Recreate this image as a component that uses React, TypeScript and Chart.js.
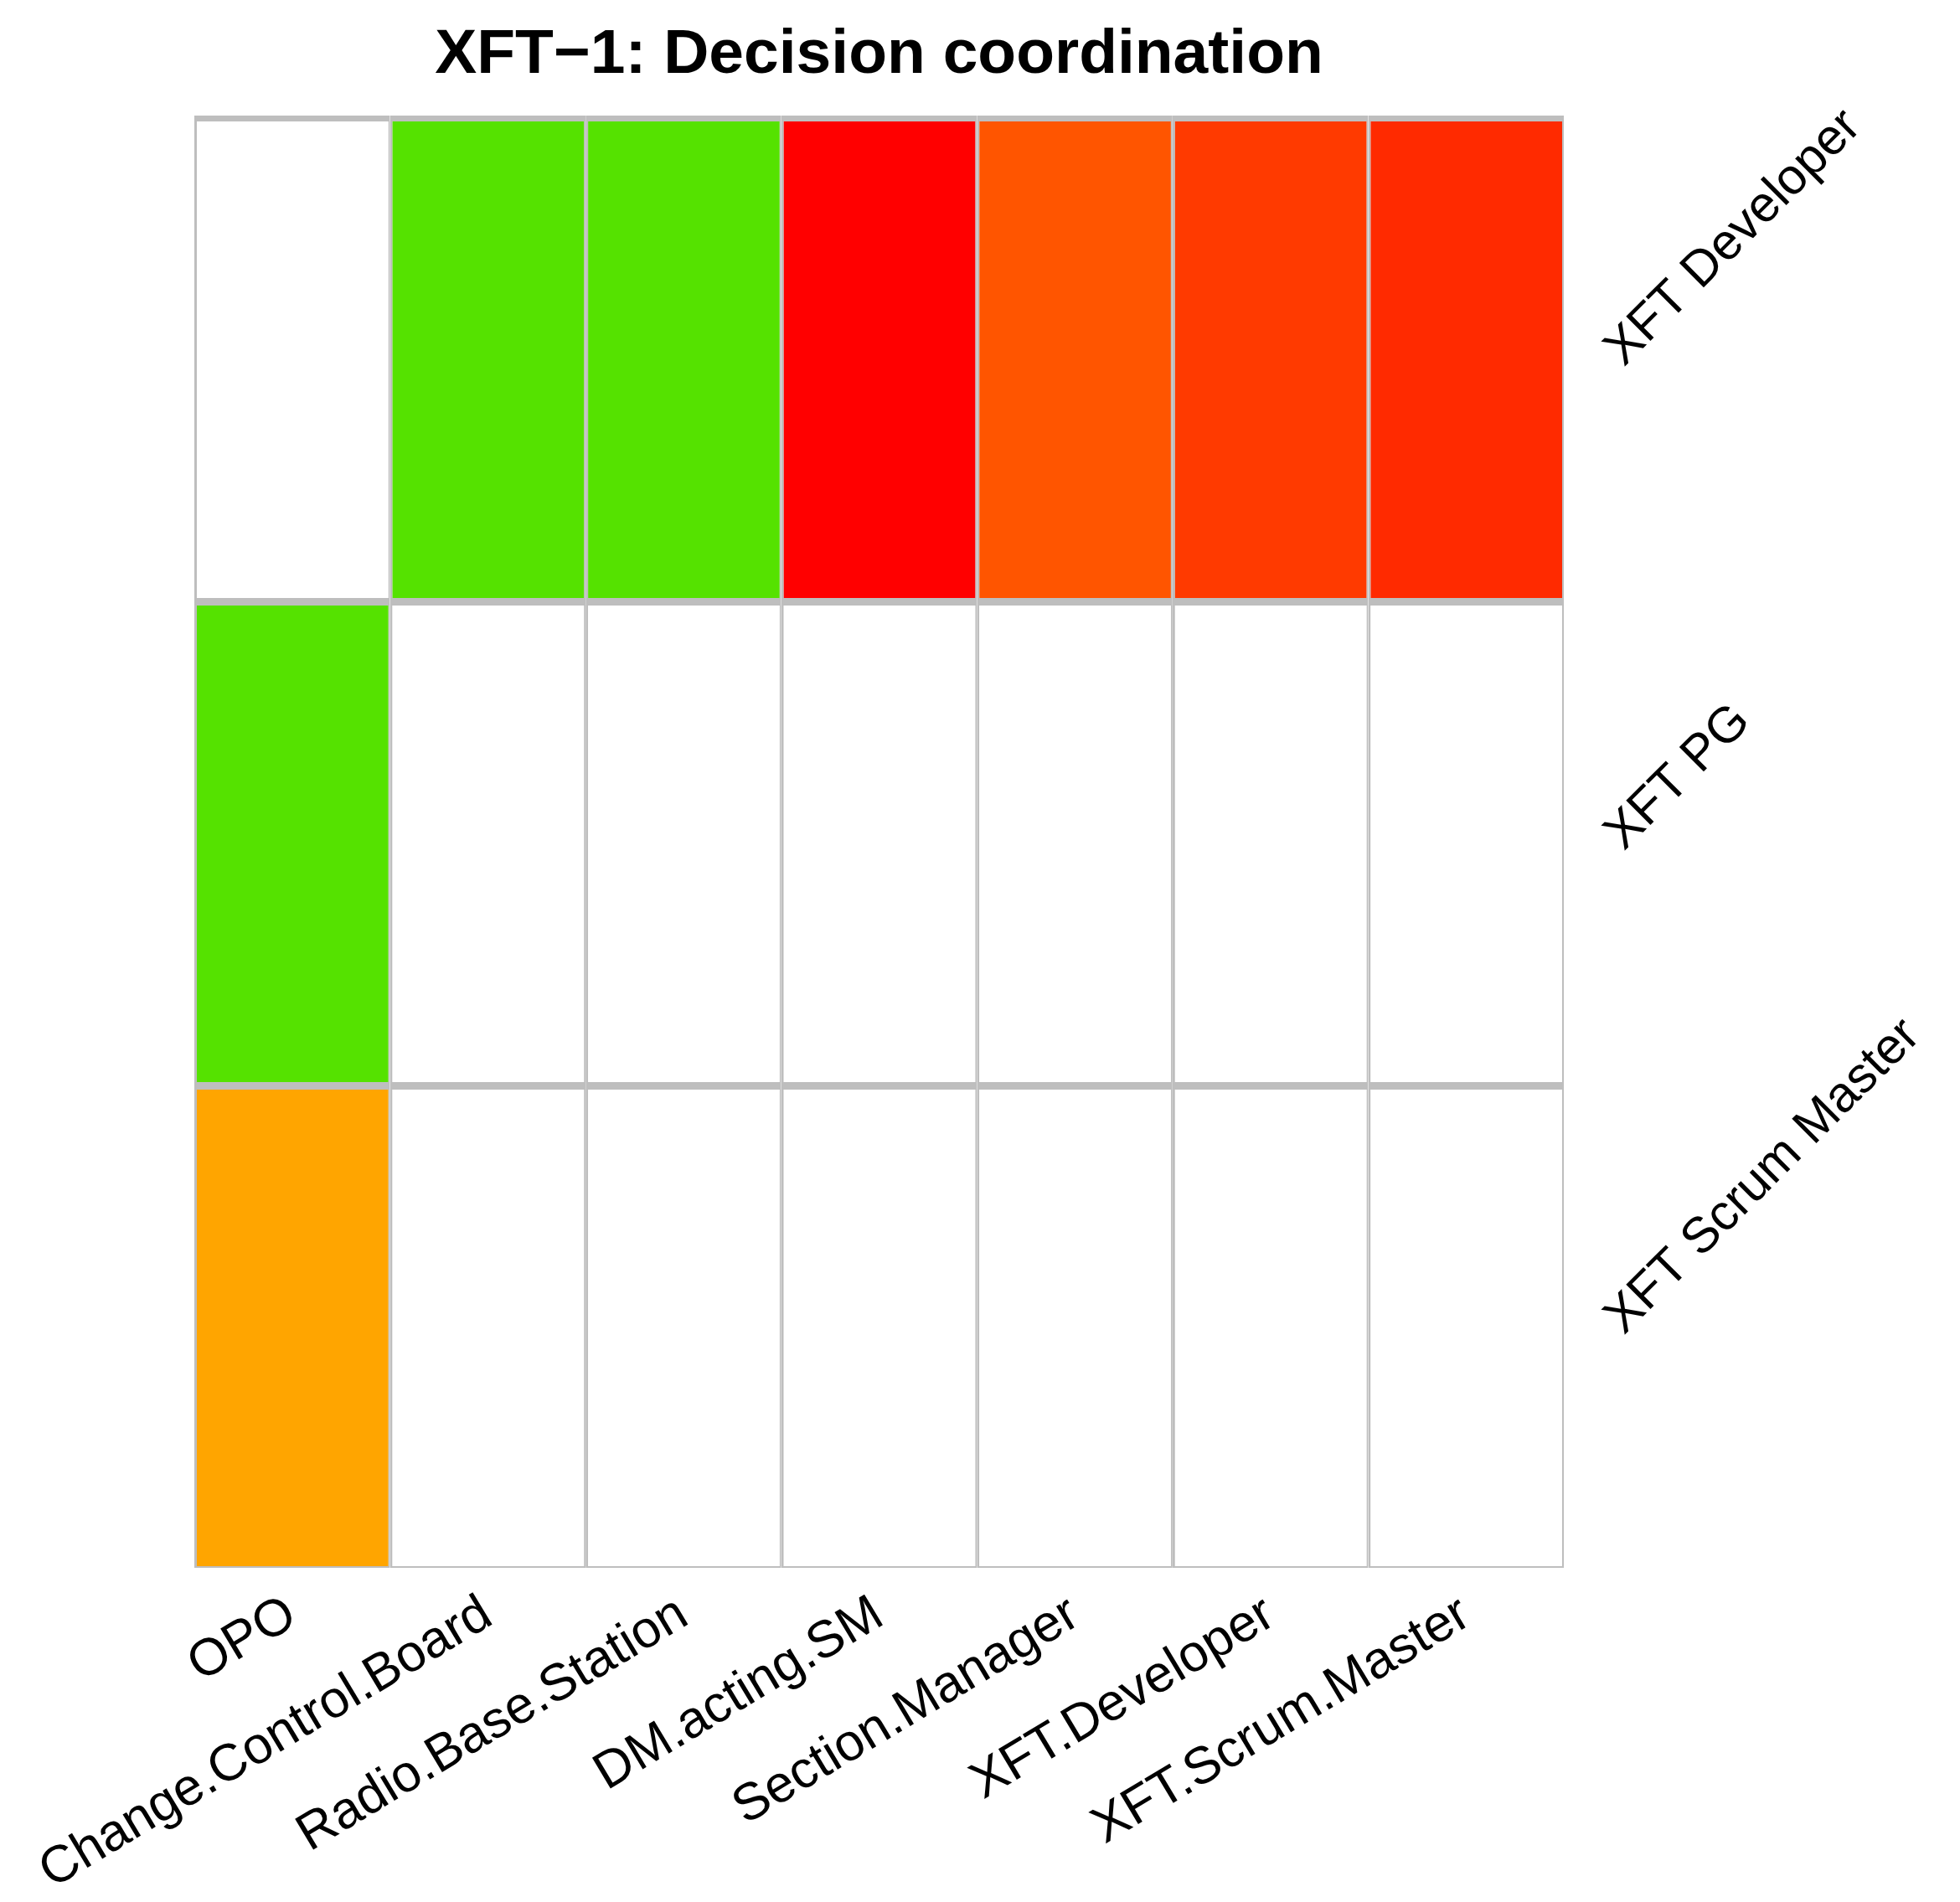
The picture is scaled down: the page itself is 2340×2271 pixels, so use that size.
import React, { useEffect, useRef } from "react";
import { Chart, registerables } from "chart.js";

Chart.register(...registerables);

const titleText = "XFT\u22121: Decision coordination";
const columns = [
  "OPO",
  "Change.Control.Board",
  "Radio.Base.Station",
  "DM.acting.SM",
  "Section.Manager",
  "XFT.Developer",
  "XFT.Scrum.Master",
];
// Row labels, top to bottom
const rows = ["XFT Developer", "XFT PG", "XFT Scrum Master"];

// Cell fills per row (one per column)
const developerColors = ["#FFFFFF", "#55E200", "#55E200", "#FF0000", "#FF5500", "#FF3A00", "#FF2A00"];
const pgColors = ["#55E200", "#FFFFFF", "#FFFFFF", "#FFFFFF", "#FFFFFF", "#FFFFFF", "#FFFFFF"];
const scrumMasterColors = ["#FFA500", "#FFFFFF", "#FFFFFF", "#FFFFFF", "#FFFFFF", "#FFFFFF", "#FFFFFF"];

// each cell occupies one unit of height
const cellHeight = [1, 1, 1, 1, 1, 1, 1];

const W = 2340;
const H = 2271;
const FONT = "'Liberation Sans', Arial, Helvetica, sans-serif";

export default function App() {
  const ref = useRef<HTMLCanvasElement | null>(null);

  useEffect(() => {
    if (!ref.current) return;
    const border = { top: 7, bottom: 2, left: 3, right: 2 };
    const mk = (label: string, colors: string[]) => ({
      label,
      data: cellHeight,
      backgroundColor: colors,
      borderColor: "#BEBEBE",
      borderWidth: border,
      borderSkipped: false as const,
      inflateAmount: 0,
      barPercentage: 1,
      categoryPercentage: 1,
      xAxisID: "x",
      yAxisID: "y",
    });
    // stacked from bottom to top
    const datasets = [
      mk(rows[2], scrumMasterColors),
      mk(rows[1], pgColors),
      mk(rows[0], developerColors),
    ];
    const chart = new Chart(ref.current, {
      type: "bar",
      data: { labels: columns, datasets },
      options: {
        responsive: false,
        animation: false,
        devicePixelRatio: 1,
        layout: { padding: { left: 232, right: 0, top: 0, bottom: 0 } },
        plugins: {
          legend: { display: false },
          tooltip: { enabled: false },
          title: {
            display: true,
            text: titleText,
            fullSize: false,
            color: "#000",
            font: { family: FONT, size: 75, weight: "bold" },
            padding: { top: 21, bottom: 27 },
          },
        },
        scales: {
          x: {
            type: "category",
            stacked: true,
            offset: true,
            position: "bottom",
            grid: { display: false, drawTicks: false },
            border: { display: false },
            ticks: {
              color: "#000",
              font: { family: FONT, size: 62 },
              autoSkip: false,
              minRotation: 31,
              maxRotation: 31,
              padding: 19,
            },
            afterFit: (s: any) => {
              s.height = H - 1872;
            },
          },
          y: {
            type: "linear",
            stacked: true,
            min: 0,
            max: 3,
            display: false,
          },
          rowsAxis: {
            type: "category",
            labels: rows,
            position: "right",
            offset: true,
            grid: { display: false, drawTicks: false },
            border: { display: false },
            ticks: {
              color: "#000",
              font: { family: FONT, size: 60 },
              minRotation: 45,
              maxRotation: 45,
              autoSkip: false,
              padding: 60,
            },
            afterFit: (s: any) => {
              s.width = W - 1867;
            },
          },
        },
      } as any,
    });
    return () => chart.destroy();
  }, []);

  return (
    <div style={{ position: "fixed", left: 0, top: 0, width: W, height: H, background: "#fff" }}>
      <canvas ref={ref} width={W} height={H} style={{ display: "block", width: W, height: H }} />
    </div>
  );
}
